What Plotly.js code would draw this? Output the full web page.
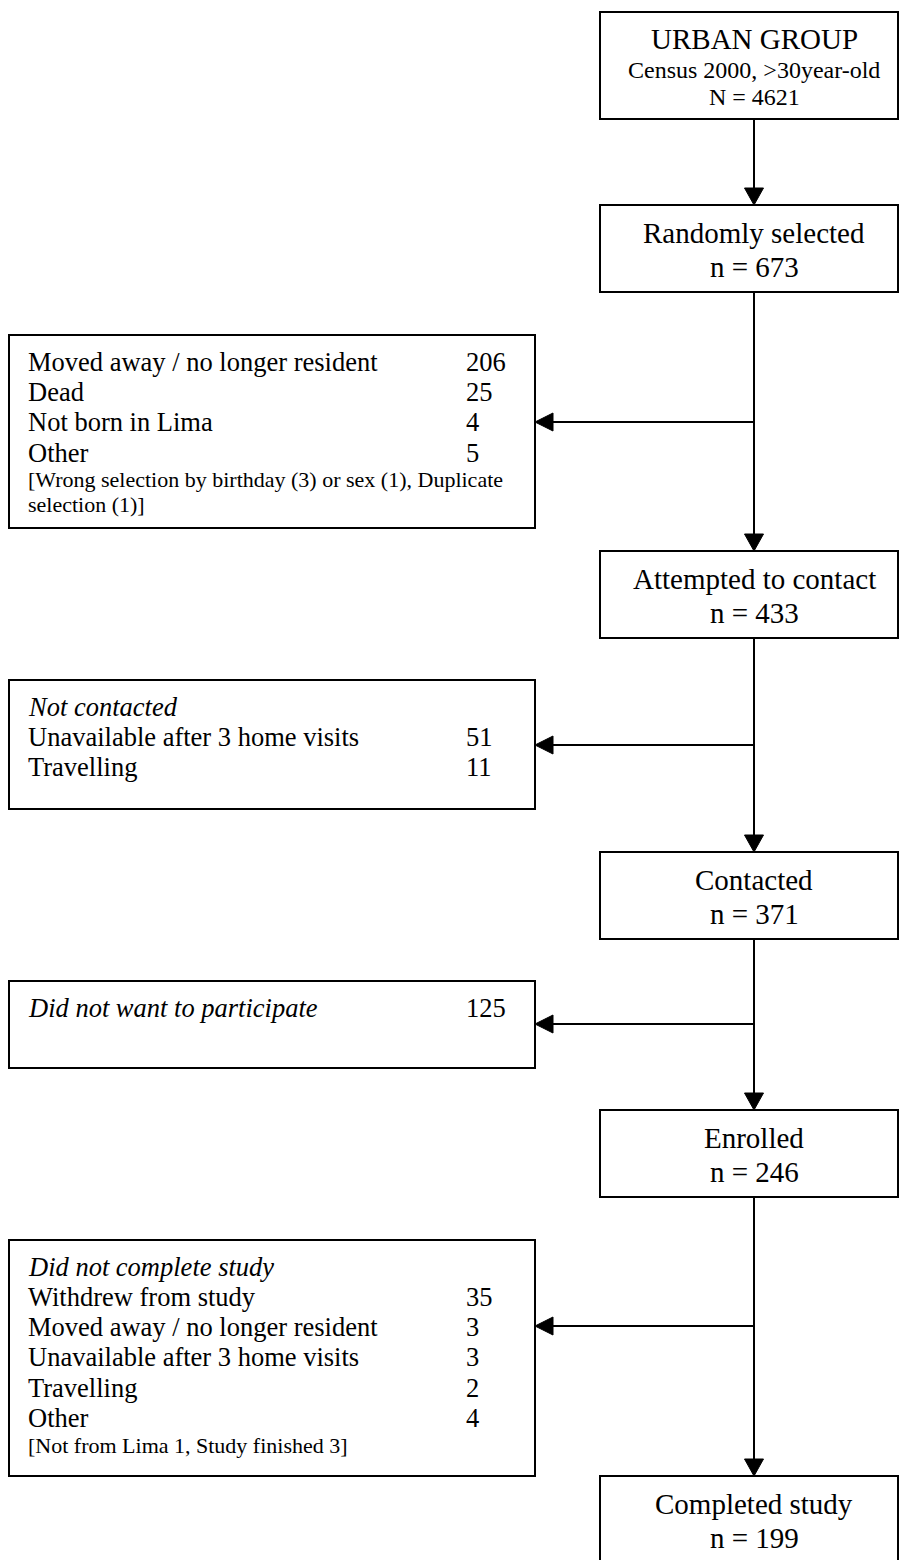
<!DOCTYPE html>
<html>
<head>
<meta charset="utf-8">
<script src="https://cdn.plot.ly/plotly-3.0.1.min.js"></script>
<style>html,body{margin:0;padding:0;background:#fff}</style>
</head>
<body>
<div id="chart" style="width:899px;height:1560px"></div>
<script>
// ---------- DATA ----------
const headerLines = ["URBAN GROUP", "Census 2000, >30year-old", "N = 4621"];
const stageLabels = ["Randomly selected", "Attempted to contact", "Contacted", "Enrolled", "Completed study"];
const stageCounts = [673, 433, 371, 246, 199];

const excl1Title = null;
const excl1Reasons = ["Moved away / no longer resident", "Dead", "Not born in Lima", "Other"];
const excl1Counts = [206, 25, 4, 5];
const excl1Notes = ["[Wrong selection by birthday (3) or sex (1), Duplicate", "selection (1)]"];

const excl2Title = "Not contacted";
const excl2Reasons = ["Unavailable after 3 home visits", "Travelling"];
const excl2Counts = [51, 11];
const excl2Notes = [];

const excl3Title = null;
const excl3Reasons = ["<i>Did not want to participate</i>"];
const excl3Counts = [125];
const excl3Notes = [];

const excl4Title = "Did not complete study";
const excl4Reasons = ["Withdrew from study", "Moved away / no longer resident", "Unavailable after 3 home visits", "Travelling", "Other"];
const excl4Counts = [35, 3, 3, 2, 4];
const excl4Notes = ["[Not from Lima 1, Study finished 3]"];

// ---------- LAYOUT GEOMETRY (pixel-like axis units) ----------
const W = 899, H = 1560;
const FONT = "Liberation Serif, Times New Roman, serif";
const mainX = 754;
const rightBox = {x0: 600, x1: 898};
const headerBox = {y0: 12, y1: 119};
const stageTops = [205, 551, 852, 1110, 1476];
const stageH = 87;
const leftBox = {x0: 9, x1: 535, textX: 27, numX: 465};
const excl = [
  {y0: 335, y1: 528, arrowY: 422, title: excl1Title, reasons: excl1Reasons, counts: excl1Counts, notes: excl1Notes},
  {y0: 680, y1: 809, arrowY: 745, title: excl2Title, reasons: excl2Reasons, counts: excl2Counts, notes: excl2Notes},
  {y0: 981, y1: 1068, arrowY: 1024, title: excl3Title, reasons: excl3Reasons, counts: excl3Counts, notes: excl3Notes},
  {y0: 1240, y1: 1476, arrowY: 1326, title: excl4Title, reasons: excl4Reasons, counts: excl4Counts, notes: excl4Notes}
];

const LW = 2;
const shapes = [];
const annotations = [];

function rect(x0, y0, x1, y1) {
  shapes.push({type: 'rect', xref: 'x', yref: 'y', x0, y0, x1, y1,
    line: {color: '#000', width: LW}, fillcolor: 'rgba(0,0,0,0)'});
}
function line(x0, y0, x1, y1) {
  shapes.push({type: 'line', xref: 'x', yref: 'y', x0, y0, x1, y1,
    line: {color: '#000', width: LW}});
}
function arrowDown(x, yTip) {
  const L = 17, hw = 9.5;
  shapes.push({type: 'path', xref: 'x', yref: 'y',
    path: `M ${x} ${yTip} L ${x - hw} ${yTip - L} L ${x + hw} ${yTip - L} Z`,
    fillcolor: '#000', line: {color: '#000', width: 1}});
}
function arrowLeft(xTip, y) {
  const L = 18, hh = 9;
  shapes.push({type: 'path', xref: 'x', yref: 'y',
    path: `M ${xTip} ${y} L ${xTip + L} ${y - hh} L ${xTip + L} ${y + hh} Z`,
    fillcolor: '#000', line: {color: '#000', width: 1}});
}
function txt(x, y, text, size, anchor) {
  annotations.push({xref: 'x', yref: 'y', x, y, text, showarrow: false,
    xanchor: anchor || 'left', yanchor: 'middle',
    font: {family: FONT, size, color: '#000'}, borderpad: 0});
}

// Header box
rect(rightBox.x0, headerBox.y0, rightBox.x1, headerBox.y1);
txt(mainX, 39, headerLines[0], 29, 'center');
txt(mainX, 70, headerLines[1], 24, 'center');
txt(mainX, 97, headerLines[2], 24, 'center');

// Stage boxes
stageLabels.forEach((lab, i) => {
  const t = stageTops[i];
  const b = (i === stageLabels.length - 1) ? H + 40 : t + stageH;
  rect(rightBox.x0, t, rightBox.x1, b);
  txt(mainX, t + 28, lab, 29, 'center');
  txt(mainX, t + 62, 'n = ' + stageCounts[i], 29, 'center');
});

// Main vertical connectors with arrows
let prevBottom = headerBox.y1;
stageTops.forEach((t, i) => {
  line(mainX, prevBottom, mainX, t - 16);
  arrowDown(mainX, t);
  prevBottom = t + stageH;
});

// Exclusion boxes
excl.forEach(e => {
  rect(leftBox.x0, e.y0, leftBox.x1, e.y1);
  line(mainX, e.arrowY, leftBox.x1 + 17, e.arrowY);
  arrowLeft(leftBox.x1, e.arrowY);
  let y = e.y0 + 27;
  if (e.title) { txt(leftBox.textX, y, '<i>' + e.title + '</i>', 26.5); y += 30; }
  e.reasons.forEach((r, k) => {
    txt(leftBox.textX, y, r, 26.5);
    txt(leftBox.numX, y, String(e.counts[k]), 26.5);
    y += 30.2;
  });
  y -= 3;
  e.notes.forEach(n => { txt(leftBox.textX, y, n, 22); y += 24.5; });
});

const layout = {
  width: W, height: H,
  margin: {l: 0, r: 0, t: 0, b: 0, pad: 0},
  paper_bgcolor: '#fff', plot_bgcolor: '#fff',
  xaxis: {range: [0, W], visible: false, fixedrange: true},
  yaxis: {range: [H, 0], visible: false, fixedrange: true},
  showlegend: false,
  shapes, annotations
};
Plotly.newPlot('chart', [{type: 'scatter', x: [], y: [], mode: 'markers'}], layout, {staticPlot: true, displayModeBar: false});
</script>
</body>
</html>
